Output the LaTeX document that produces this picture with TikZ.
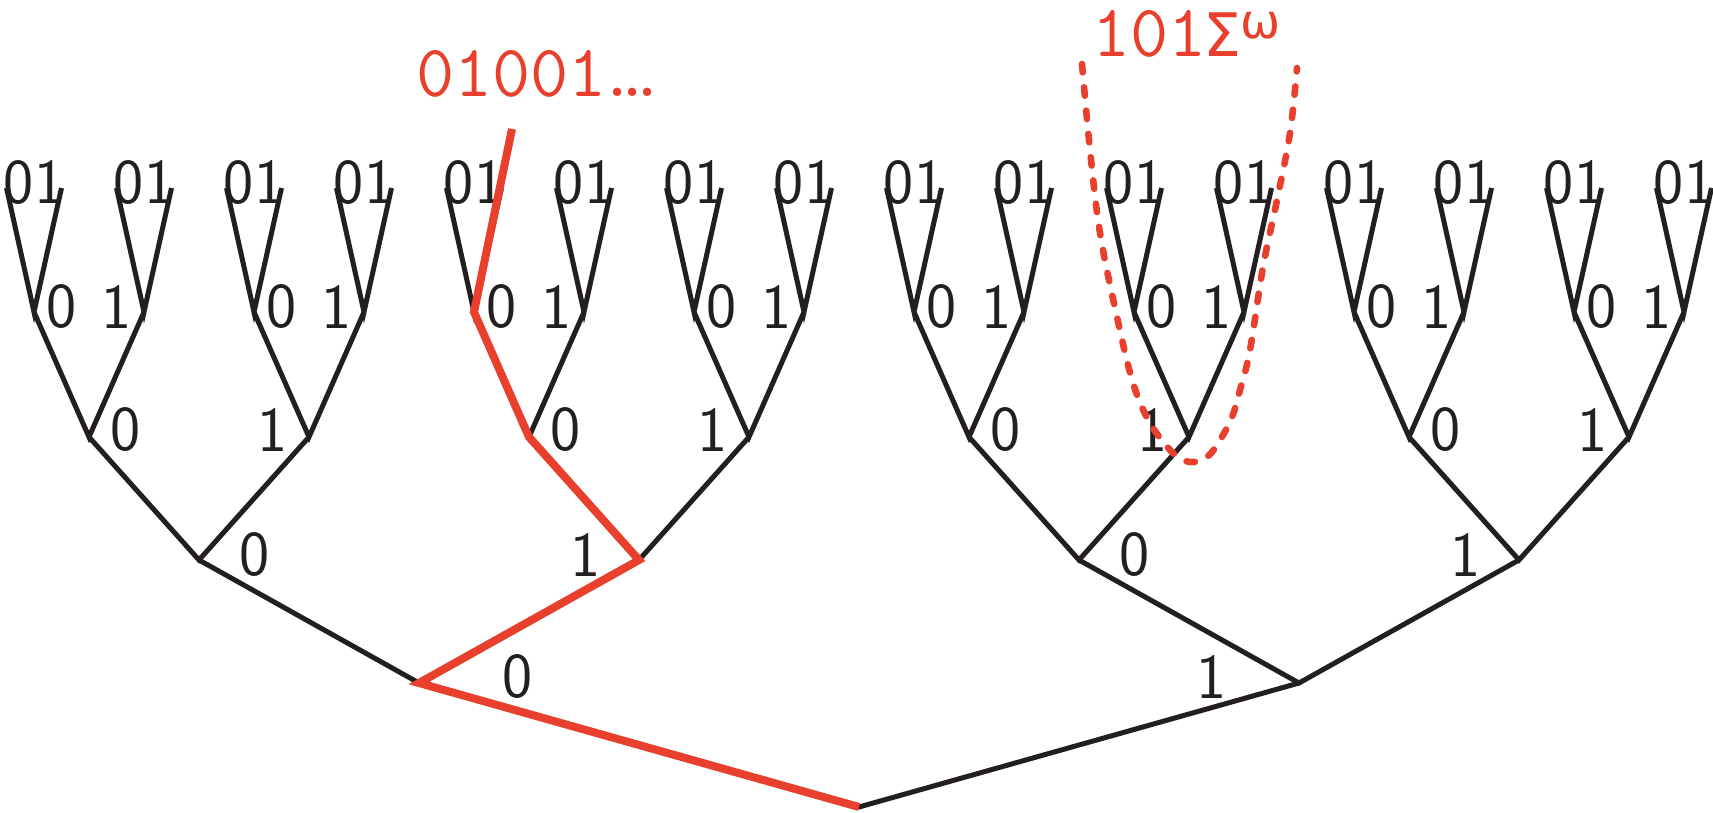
\documentclass[tikz,border=0pt]{standalone}
\usepackage{fontspec}
\newfontfamily\dvsans{DejaVu Sans}
\definecolor{myred}{RGB}{232,64,45}
\definecolor{myblack}{RGB}{35,31,32}
\begin{document}
\begin{tikzpicture}[x=0.5pt,y=-0.5pt,
  edge/.style={draw=myblack,line width=2.5pt,line join=miter},
  redpath/.style={draw=myred,line width=4pt,line join=miter},
  reddash/.style={draw=myred,line width=3.3pt,line cap=round,dash pattern=on 4.2pt off 7.5pt},
  lab/.style={inner sep=0pt,text=myblack,font=\fontsize{32}{36}\selectfont\sffamily},
  redlab/.style={inner sep=0pt,text=myred,font=\fontsize{37}{42}\selectfont\ttfamily,anchor=base west}]
\useasboundingbox (0,0) rectangle (1713,813);
\coordinate (r) at (859,807);
\foreach \a in {0,1}{
  \pgfmathsetmacro\xa{859+(2*\a-1)*440}
  \coordinate (n\a) at (\xa,683);
  \pgfmathsetmacro\la{\a==0 ? \xa+99 : \xa-87}
  \node[lab] (t\a) at (\la,677) {\a};
  \foreach \b in {0,1}{
    \pgfmathsetmacro\xb{\xa+(2*\b-1)*220}
    \coordinate (n\a\b) at (\xb,560);
    \pgfmathsetmacro\lb{\b==0 ? \xb+56 : \xb-53}
    \node[lab] (t\a\b) at (\lb,555) {\b};
    \foreach \c in {0,1}{
      \pgfmathsetmacro\xc{\xb+(2*\c-1)*110}
      \coordinate (n\a\b\c) at (\xc,437);
      \pgfmathsetmacro\lc{\c==0 ? \xc+37 : \xc-36}
      \node[lab] (t\a\b\c) at (\lc,430) {\c};
      \foreach \d in {0,1}{
        \pgfmathsetmacro\xd{\xc+(2*\d-1)*55}
        \coordinate (n\a\b\c\d) at (\xd,312);
        \pgfmathsetmacro\ld{\d==0 ? \xd+28 : \xd-27}
        \node[lab] (t\a\b\c\d) at (\ld,307) {\d};
        \foreach \e in {0,1}{
          \pgfmathsetmacro\xe{\xd+(2*\e-1)*27.5}
          \coordinate (n\a\b\c\d\e) at (\xe,188);
        }
        \draw[edge] (n\a\b\c\d0) -- (n\a\b\c\d) -- (n\a\b\c\d1);
        \node[lab] (t\a\b\c\d x) at (\xd,183) {01};
      }
      \draw[edge] (n\a\b\c0) -- (n\a\b\c) -- (n\a\b\c1);
    }
    \draw[edge] (n\a\b0) -- (n\a\b) -- (n\a\b1);
  }
  \draw[edge] (n\a0) -- (n\a) -- (n\a1);
}
\draw[edge] (n0) -- (r) -- (n1);
% red path 01001...
\coordinate (redend) at (512,129);
\draw[redpath] (r) -- (n0) -- (n01) -- (n010) -- (n0100) -- (redend);
\node[redlab] (w1) at (416,97) {01001\kern-0.12em.\kern-0.31em.\kern-0.31em.};
% cone 101 Sigma^omega
\draw[reddash] plot[smooth,tension=0.6] coordinates {(1082,64) (1090,150) (1100,233) (1117,317) (1133,383) (1150,423) (1173,453) (1190,462) (1207,457) (1220,440) (1232,417) (1240,390) (1250,350) (1263,267) (1277,200) (1290,133) (1297,68)};
\node[redlab] (w2) at (1092,57) {101\kern-0.05em{\dvsans\fontsize{30}{34}\selectfont Σ}\smash{\raisebox{9pt}{\dvsans\fontsize{24}{28}\selectfont ω}}};
\end{tikzpicture}
\end{document}
